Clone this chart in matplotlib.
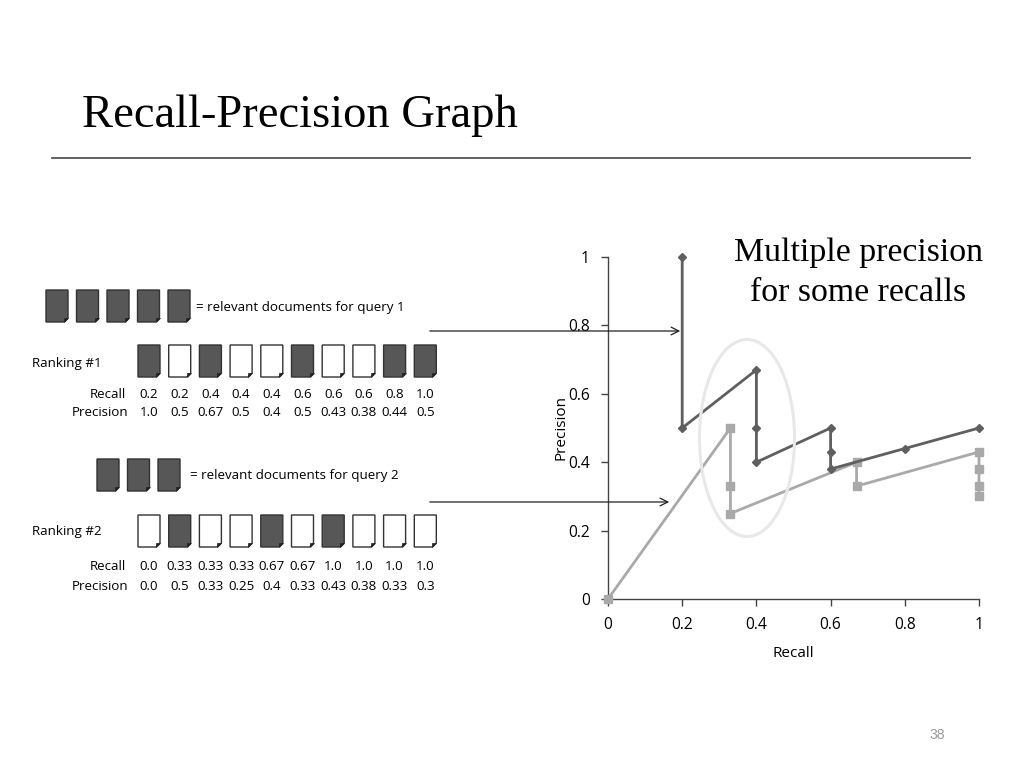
import matplotlib
matplotlib.use("Agg")
import matplotlib.pyplot as plt
from matplotlib.patches import Polygon, Ellipse

# ---------------- data ----------------
rank1_relevant = [1, 0, 1, 0, 0, 1, 0, 0, 1, 1]
rank1_recall = ["0.2", "0.2", "0.4", "0.4", "0.4", "0.6", "0.6", "0.6", "0.8", "1.0"]
rank1_precision = ["1.0", "0.5", "0.67", "0.5", "0.4", "0.5", "0.43", "0.38", "0.44", "0.5"]

rank2_relevant = [0, 1, 0, 0, 1, 0, 1, 0, 0, 0]
rank2_recall = ["0.0", "0.33", "0.33", "0.33", "0.67", "0.67", "1.0", "1.0", "1.0", "1.0"]
rank2_precision = ["0.0", "0.5", "0.33", "0.25", "0.4", "0.33", "0.43", "0.38", "0.33", "0.3"]

# points plotted on the graph
q1_recall = [0.2, 0.2, 0.4, 0.4, 0.4, 0.6, 0.6, 0.6, 0.8, 1.0]
q1_precision = [1.0, 0.5, 0.67, 0.5, 0.4, 0.5, 0.43, 0.38, 0.44, 0.5]
q2_recall = [0.0, 0.33, 0.33, 0.33, 0.67, 0.67, 1.0, 1.0, 1.0, 1.0]
q2_precision = [0.0, 0.5, 0.33, 0.25, 0.4, 0.33, 0.43, 0.38, 0.33, 0.3]

xticks = [0, 0.2, 0.4, 0.6, 0.8, 1]
xtick_labels = ["0", "0.2", "0.4", "0.6", "0.8", "1"]
yticks = [0, 0.2, 0.4, 0.6, 0.8, 1]
ytick_labels = ["0", "0.2", "0.4", "0.6", "0.8", "1"]

title = "Recall-Precision Graph"
note = "Multiple precision\nfor some recalls"

SANS = ["Open Sans", "DejaVu Sans"]
SERIF = ["Liberation Serif", "DejaVu Serif"]
DARK = "#5f5f5f"
LIGHT = "#a9a9a9"

W, H = 1024, 768
fig = plt.figure(figsize=(W / 100, H / 100), dpi=100)
fig.patch.set_facecolor("white")

# ---------------- chart ----------------
ax = fig.add_axes([608 / W, 1 - 599 / H, (979 - 608) / W, (599 - 257) / H])
ax.set_facecolor("none")
ax.plot(q2_recall, q2_precision, color=LIGHT, lw=2, marker="s", ms=6,
        markeredgecolor=LIGHT, clip_on=False, zorder=3)
ax.plot(q1_recall, q1_precision, color=DARK, lw=2, marker="D", ms=4.5,
        markeredgecolor=DARK, clip_on=False, zorder=4)
ax.set_xlim(0, 1)
ax.set_ylim(0, 1)
ax.set_xticks(xticks)
ax.set_xticklabels(xtick_labels)
ax.set_yticks(yticks)
ax.set_yticklabels(ytick_labels)
for s in ["top", "right"]:
    ax.spines[s].set_visible(False)
for s in ["left", "bottom"]:
    ax.spines[s].set_color("#444444")
    ax.spines[s].set_linewidth(1.0)
ax.tick_params(direction="out", length=5, width=1, color="#444444",
               labelsize=11.2, pad=8)
for lab in ax.get_xticklabels() + ax.get_yticklabels():
    lab.set_family(SANS)
ax.set_xlabel("Recall", family=SANS, fontsize=11, labelpad=9)
ax.set_ylabel("Precision", family=SANS, fontsize=11, labelpad=0)

# ---------------- overlay in pixel coordinates ----------------
ov = fig.add_axes([0, 0, 1, 1])
ov.set_xlim(0, W)
ov.set_ylim(H, 0)
ov.axis("off")
ov.patch.set_alpha(0)

ov.text(82, 116, title, family=SERIF, fontsize=33.6, va="center", ha="left")
ov.plot([52, 970], [158, 158], color="#555555", lw=1.3)
ov.text(937, 735, "38", family=["Liberation Sans", "DejaVu Sans"], fontsize=10,
        color="#999999", ha="center", va="center")
ov.text(858, 273, note, family=SERIF, fontsize=24.4, ha="center", va="center",
        linespacing=1.42)

ov.add_patch(Ellipse((747, 438), 95, 197, fill=False, edgecolor="#e8e8e8", lw=2.2, zorder=5))


def doc(x, y, filled, w=22, h=32, c=4):
    pts = [(x, y), (x + w, y), (x + w, y + h - c), (x + w - c, y + h), (x, y + h)]
    ov.add_patch(Polygon(pts, closed=True, facecolor="#575757" if filled else "white",
                         edgecolor="#333333", lw=1.0, zorder=2))
    ov.add_patch(Polygon([(x + w, y + h - c), (x + w - c, y + h - c), (x + w - c, y + h)],
                         closed=True, facecolor="#222222", edgecolor="#222222", lw=0.5, zorder=3))


tfs = 9.6
# query 1 legend
for i in range(5):
    doc(46 + i * 30.5, 290, True)
ov.text(196, 307, "= relevant documents for query 1", family=SANS, fontsize=tfs, va="center")

# ranking 1
ov.text(32, 363, "Ranking #1", family=SANS, fontsize=tfs, va="center")
for i, r in enumerate(rank1_relevant):
    doc(138 + i * 30.7, 345, r == 1)
    cx = 149 + i * 30.7
    ov.text(cx, 394, rank1_recall[i], family=SANS, fontsize=tfs, ha="center", va="center")
    ov.text(cx, 413, rank1_precision[i], family=SANS, fontsize=tfs, ha="center", va="center")
ov.text(126, 394, "Recall", family=SANS, fontsize=tfs, ha="right", va="center")
ov.text(128, 413, "Precision", family=SANS, fontsize=tfs, ha="right", va="center")

# query 2 legend
for i in range(3):
    doc(97 + i * 30.5, 459, True)
ov.text(190, 476, "= relevant documents for query 2", family=SANS, fontsize=tfs, va="center")

# ranking 2
ov.text(32, 532, "Ranking #2", family=SANS, fontsize=tfs, va="center")
for i, r in enumerate(rank2_relevant):
    doc(138 + i * 30.7, 515, r == 1)
    cx = 149 + i * 30.7
    ov.text(cx, 567, rank2_recall[i], family=SANS, fontsize=tfs, ha="center", va="center")
    ov.text(cx, 587, rank2_precision[i], family=SANS, fontsize=tfs, ha="center", va="center")
ov.text(126, 567, "Recall", family=SANS, fontsize=tfs, ha="right", va="center")
ov.text(128, 587, "Precision", family=SANS, fontsize=tfs, ha="right", va="center")

# arrows
ov.annotate("", xy=(683, 331), xytext=(427, 331),
            arrowprops=dict(arrowstyle="->", color="#222222", lw=0.9, mutation_scale=14))
ov.annotate("", xy=(672, 502), xytext=(427, 502),
            arrowprops=dict(arrowstyle="->", color="#222222", lw=0.9, mutation_scale=14))

fig.savefig("out.png", dpi=100, facecolor="white")
